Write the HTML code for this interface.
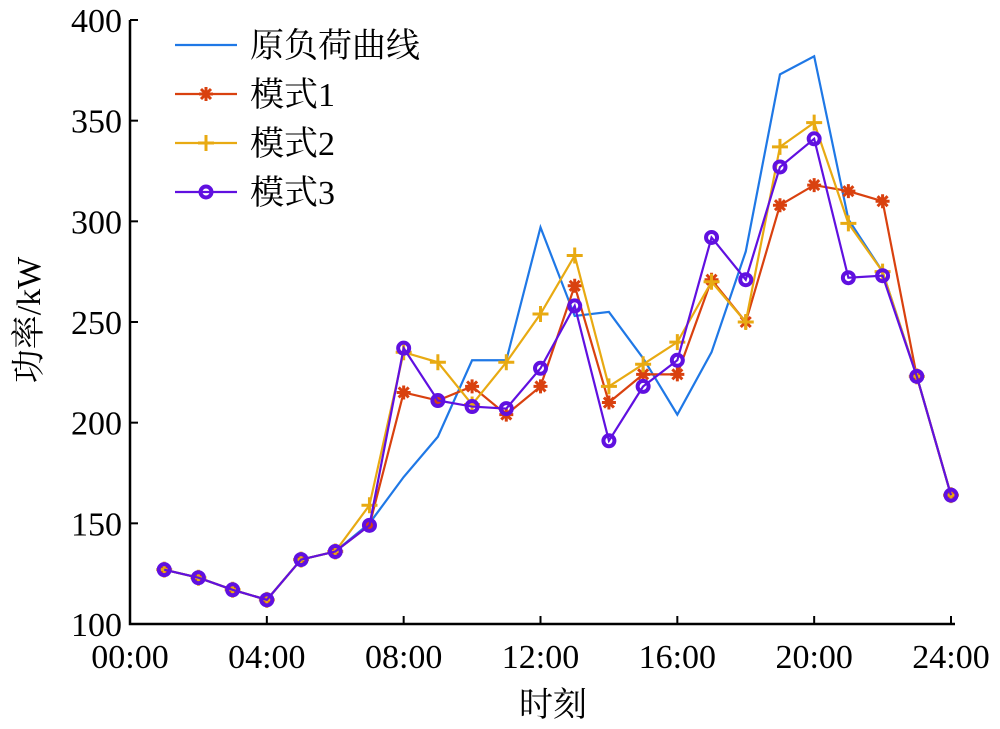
<!DOCTYPE html>
<html><head><meta charset="utf-8"><style>
body{margin:0;background:#fff;}
svg text{font-family:"Liberation Serif","Noto Serif CJK SC",serif;fill:#000;}
</style></head><body>
<svg id="chart" width="1000" height="724" xmlns="http://www.w3.org/2000/svg"></svg>
<script>
const hours=[1,2,3,4,5,6,7,8,9,10,11,12,13,14,15,16,17,18,19,20,21,22,23,24];
const original=[127,123,117,112,132,136,150,173,193,231,231,297,253,255,232,204,235,285,373,382,301,275,223,164];
const mode1=[127,123,117,112,132,136,149,215,211,218,204,218,268,210,224,224,271,250,308,318,315,310,223,164];
const mode2=[127,123,117,112,132,136,159,235,230,209,230,254,283,218,229,240,270,250,337,349,299,275,223,164];
const mode3=[127,123,117,112,132,136,149,237,211,208,207,227,258,191,218,231,292,271,327,341,272,273,223,164];
const yTicks=[100,150,200,250,300,350,400];
const xTicks=[0,4,8,12,16,20,24];
const xTickLabels=["00:00","04:00","08:00","12:00","16:00","20:00","24:00"];
const seriesNames=["原负荷曲线","模式1","模式2","模式3"];

const svg=document.getElementById('chart');
const NS="http://www.w3.org/2000/svg";
const X0=130,X1=951,Y0=624,Y1=20;
function xs(h){return X0+(h/24)*(X1-X0);}
function ys(v){return Y0-(v-100)/300*(Y0-Y1);}
function mk(tag,attrs,parent){const e=document.createElementNS(NS,tag);for(const k in attrs)e.setAttribute(k,attrs[k]);(parent||svg).appendChild(e);return e;}

// axes
let ax=mk('path',{d:`M${X0},${Y1} L${X0},${Y0} L${X1+4},${Y0}`,stroke:'#000','stroke-width':2.5,fill:'none'});


yTicks.forEach(v=>{
  const y=ys(v);
  const t=mk('line',{x1:X0,x2:X0+8,y1:y,y2:y,stroke:'#000','stroke-width':2});
  
  
  const l=mk('text',{x:X0-8,y:y+12,'text-anchor':'end','font-size':34});
  l.textContent=v;
  
  
});
xTicks.forEach((h,i)=>{
  const x=xs(h);
  const t=mk('line',{x1:x,x2:x,y1:Y0,y2:Y0-8,stroke:'#000','stroke-width':2});
  
  
  const l=mk('text',{x:x,y:Y0+44,'text-anchor':'middle','font-size':34});
  l.textContent=xTickLabels[i];
  
  
});
let xt=mk('text',{x:553,y:716,'text-anchor':'middle','font-size':34});
xt.textContent='时刻';


let yt=mk('text',{x:0,y:0,'text-anchor':'middle','font-size':34,transform:'translate(40,320) rotate(-90)'});
yt.textContent='功率/kW';



function marker(type,x,y,color,g){
  if(type==='star'){
    const s=7;
    mk('path',{d:`M${x-s},${y}L${x+s},${y}M${x},${y-s}L${x},${y+s}M${x-5},${y-5}L${x+5},${y+5}M${x-5},${y+5}L${x+5},${y-5}`,stroke:color,'stroke-width':3},g);
  }else if(type==='plus'){
    const s=8;
    mk('path',{d:`M${x-s},${y}L${x+s},${y}M${x},${y-s}L${x},${y+s}`,stroke:color,'stroke-width':3},g);
  }else if(type==='circle'){
    mk('circle',{cx:x,cy:y,r:5.5,stroke:color,'stroke-width':4,fill:'none'},g);
  }
}
const series=[
  {data:original,color:'#1f78e6',m:null,name:'original-load-line'},
  {data:mode1,color:'#d9410f',m:'star',name:'mode1-line'},
  {data:mode2,color:'#e8aa12',m:'plus',name:'mode2-line'},
  {data:mode3,color:'#6010e0',m:'circle',name:'mode3-line'}
];
series.forEach(s=>{
  const g=mk('g',{});
  
  
  const d=s.data.map((v,i)=>(i?'L':'M')+xs(hours[i])+','+ys(v)).join('');
  mk('path',{d:d,stroke:s.color,'stroke-width':2.2,fill:'none'},g);
  if(s.m) s.data.forEach((v,i)=>marker(s.m,xs(hours[i]),ys(v),s.color,g));
});
// legend
const lg=mk('g',{});


const legY=[45,94,143,192];
series.forEach((s,i)=>{
  const g=mk('g',{},lg);
  
  
  mk('line',{x1:175,x2:237,y1:legY[i],y2:legY[i],stroke:s.color,'stroke-width':2.2},g);
  if(s.m) marker(s.m,206,legY[i],s.color,g);
  const t=mk('text',{x:250,y:legY[i]+12,'font-size':34},g);
  t.textContent=seriesNames[i];
});
</script>
</body></html>
